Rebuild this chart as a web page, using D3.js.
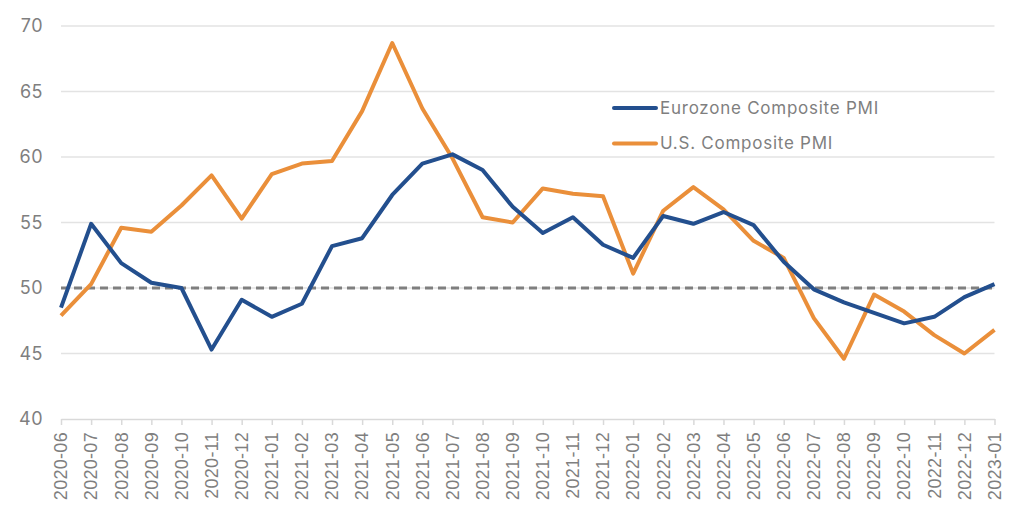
<!DOCTYPE html>
<html lang="en">
<head>
<meta charset="utf-8">
<title>Composite PMI</title>
<script src="https://cdn.jsdelivr.net/npm/d3@7"></script>
<style>
  body { margin: 0; background: #fff; }
  .grid line { stroke: #e3e3e3; stroke-width: 1.5; }
  .ylab { font-family: Inter, "Noto Sans", sans-serif; font-size: 18px; fill: #7f7f7f; letter-spacing: 0.5px; }
  .xlab { font-family: "Liberation Sans", Arial, sans-serif; font-size: 18px; fill: #7f7f7f; letter-spacing: 0.3px; }
  .legend text { font-family: Inter, "Noto Sans", sans-serif; font-size: 17px; fill: #7f7f7f; letter-spacing: 0.75px; }
</style>
</head>
<body>
<div id="chart"></div>
<script>
// data
const months = [
  "2020-06","2020-07","2020-08","2020-09","2020-10","2020-11","2020-12",
  "2021-01","2021-02","2021-03","2021-04","2021-05","2021-06","2021-07","2021-08","2021-09","2021-10","2021-11","2021-12",
  "2022-01","2022-02","2022-03","2022-04","2022-05","2022-06","2022-07","2022-08","2022-09","2022-10","2022-11","2022-12",
  "2023-01"
];
const eurozone = [48.5, 54.9, 51.9, 50.4, 50.0, 45.3, 49.1, 47.8, 48.8, 53.2, 53.8, 57.1, 59.5, 60.2, 59.0, 56.2,
  54.2, 55.4, 53.3, 52.3, 55.5, 54.9, 55.8, 54.8, 52.0, 49.9, 48.9, 48.1, 47.3, 47.8, 49.3, 50.3];
const us = [47.9, 50.3, 54.6, 54.3, 56.3, 58.6, 55.3, 58.7, 59.5, 59.7, 63.5, 68.7, 63.7, 59.9, 55.4, 55.0,
  57.6, 57.2, 57.0, 51.1, 55.9, 57.7, 56.0, 53.6, 52.3, 47.7, 44.6, 49.5, 48.2, 46.4, 45.0, 46.8];
const yTicks = [40, 45, 50, 55, 60, 65, 70];
const threshold = 50;
const seriesNames = ["Eurozone Composite PMI", "U.S. Composite PMI"];

const W = 1024, H = 524;
const mLeft = 61, mRight = 994.5, mTop = 26, mBottom = 419;
const colors = ["#234f8e", "#ea8f3a"];

const svg = d3.select("#chart").append("svg")
  .attr("width", W).attr("height", H);

const x = d3.scalePoint().domain(months).range([mLeft, mRight]);
const y = d3.scaleLinear().domain([40, 70]).range([mBottom, mTop]);

// gridlines
svg.append("g").attr("class", "grid")
  .selectAll("line").data(yTicks.filter(d => d > 40)).enter().append("line")
  .attr("x1", mLeft).attr("x2", mRight)
  .attr("y1", d => y(d)).attr("y2", d => y(d));

// y labels
svg.append("g").selectAll("text").data(yTicks).enter().append("text")
  .attr("class", "ylab")
  .attr("x", 43).attr("y", d => y(d)).attr("dy", "0.35em")
  .attr("text-anchor", "end")
  .text(d => d);

// x axis
const xAxis = svg.append("g")
  .attr("transform", "translate(0," + mBottom + ")")
  .call(d3.axisBottom(x).tickSize(6).tickSizeOuter(0).tickFormat(""));
xAxis.select(".domain").attr("stroke", "#d9d9d9").attr("stroke-width", 1.5);
xAxis.selectAll(".tick line").attr("stroke", "#d9d9d9").attr("stroke-width", 1.5);

svg.append("g").selectAll("text").data(months).enter().append("text")
  .attr("class", "xlab")
  .attr("transform", d => "translate(" + x(d) + "," + (mBottom + 13) + ") rotate(-90)")
  .attr("dy", "0.35em")
  .attr("text-anchor", "end")
  .text(d => d);

// 50 line
svg.append("line")
  .attr("x1", mLeft).attr("x2", mRight)
  .attr("y1", y(threshold)).attr("y2", y(threshold))
  .attr("stroke", "#7f7f7f").attr("stroke-width", 3)
  .attr("stroke-dasharray", "8,5");

const line = d3.line().x((d, i) => x(months[i])).y(d => y(d));

[us, eurozone].forEach((s, k) => {
  svg.append("path").datum(s)
    .attr("fill", "none")
    .attr("stroke", k === 0 ? colors[1] : colors[0])
    .attr("stroke-width", 4)
    .attr("stroke-linejoin", "round")
    .attr("d", line);
});

// legend
const legend = svg.append("g").attr("class", "legend");
seriesNames.forEach((name, i) => {
  const ly = 108 + i * 35.5;
  legend.append("line")
    .attr("x1", 614).attr("x2", 656).attr("y1", ly).attr("y2", ly)
    .attr("stroke", colors[i]).attr("stroke-width", 4).attr("stroke-linecap", "round");
  legend.append("text")
    .attr("x", 660).attr("y", ly).attr("dy", "0.35em")
    .text(name);
});
</script>
</body>
</html>
